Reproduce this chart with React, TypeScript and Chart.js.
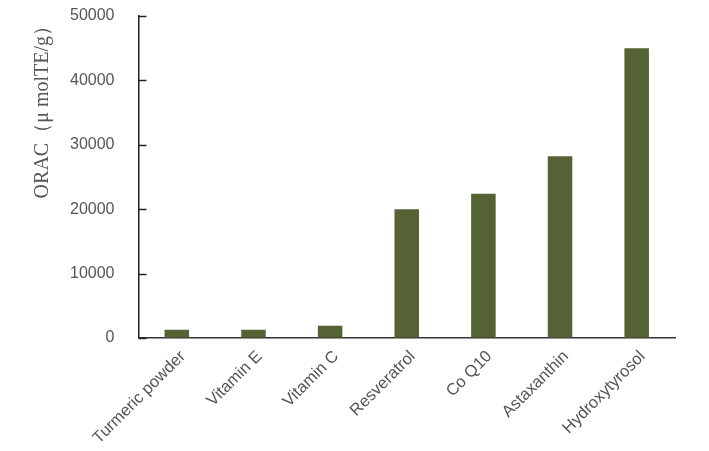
import React, { useEffect, useRef } from 'react';
import { Chart, registerables } from 'chart.js';

Chart.register(...registerables);

const categories = ['Turmeric powder', 'Vitamin E', 'Vitamin C', 'Resveratrol', 'Co Q10', 'Astaxanthin', 'Hydroxytyrosol'];
const oracValues = [1250, 1250, 1900, 20000, 22400, 28200, 45000];
const yTickValues = [0, 10000, 20000, 30000, 40000, 50000];
const yTitle = 'ORAC（μ molTE/g）';

const innerTicks = {
  id: 'innerTicks',
  afterDraw(chart: any) {
    const y = chart.scales.y;
    const ctx = chart.ctx;
    ctx.save();
    ctx.strokeStyle = '#222';
    ctx.lineWidth = 1.5;
    y.ticks.forEach((t: any) => {
      const py = Math.round(y.getPixelForValue(t.value)) + 0.5;
      ctx.beginPath();
      ctx.moveTo(y.right, py);
      ctx.lineTo(y.right + 8, py);
      ctx.stroke();
    });
    ctx.restore();
  },
};

export default function App() {
  const ref = useRef<HTMLCanvasElement>(null);
  useEffect(() => {
    if (!ref.current) return;
    const chart = new Chart(ref.current, {
      type: 'bar',
      data: {
        labels: categories,
        datasets: [
          {
            data: oracValues,
            backgroundColor: '#556234',
            borderWidth: 0,
            barPercentage: 0.32,
            categoryPercentage: 1,
          },
        ],
      },
      options: {
        responsive: false,
        animation: false,
        layout: { padding: { top: 16, right: 34, left: 31, bottom: 3 } },
        plugins: { legend: { display: false }, tooltip: { enabled: false } },
        scales: {
          x: {
            offset: true,
            grid: { display: true, drawOnChartArea: false, drawTicks: true, tickLength: 9, tickColor: 'rgba(0,0,0,0)' },
            border: { display: true, color: '#333', width: 1.5 },
            ticks: {
              color: '#555',
              font: { family: 'Liberation Sans, Arial, sans-serif', size: 16.5 },
              maxRotation: 45,
              minRotation: 45,
              padding: 0,
              labelOffset: 6,
            },
          },
          y: {
            min: 0,
            max: 50000,
            afterBuildTicks: (scale: any) => {
              scale.ticks = yTickValues.map((v) => ({ value: v }));
            },
            grid: { display: true, drawOnChartArea: false, drawTicks: true, tickLength: 22, tickColor: 'rgba(0,0,0,0)' },
            border: { display: true, color: '#222', width: 1.5 },
            ticks: {
              color: '#555',
              font: { family: 'Liberation Sans, Arial, sans-serif', size: 16 },
              padding: 2,
              callback: (v: any) => String(v),
            },
            title: {
              display: true,
              text: yTitle,
              align: 'end',
              color: '#555',
              font: { family: 'Liberation Serif, Times New Roman, serif', size: 20 },
              padding: { top: 0, bottom: 13 },
            },
          },
        },
      },
      plugins: [innerTicks],
    });
    return () => chart.destroy();
  }, []);
  return (
    <div style={{ position: 'absolute', left: 0, top: 0, width: 709, height: 451, background: '#fff' }}>
      <canvas ref={ref} width={709} height={451} />
    </div>
  );
}
